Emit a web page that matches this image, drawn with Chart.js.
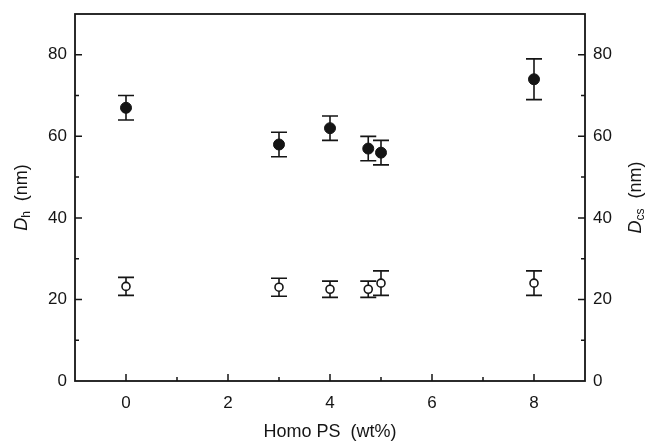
<!DOCTYPE html>
<html>
<head>
<meta charset="utf-8">
<script src="https://cdn.jsdelivr.net/npm/chart.js@4.4.0/dist/chart.umd.min.js"></script>
<style>
  html, body { margin: 0; padding: 0; background: #fff; }
  #wrap { width: 654px; height: 443px; }
</style>
</head>
<body>
<div id="wrap"><canvas id="sizeChart" width="654" height="443"></canvas></div>
<script>
const homoPS = [0, 3, 4, 4.75, 5, 8];
const dhValues = [67, 58, 62, 57, 56, 74];
const dhErrors = [3, 3, 3, 3, 3, 5];
const dcsValues = [23.2, 23, 22.5, 22.5, 24, 24];
const dcsErrors = [2.2, 2.2, 2, 2, 3, 3];
const xTicks = [0, 2, 4, 6, 8];
const yTicks = [0, 20, 40, 60, 80];

const ink = '#151515';
const font = { family: 'Liberation Sans, Arial, sans-serif', size: 17 };

function toPoints(xs, ys, errs) {
    return xs.map((x, i) => ({ x: x, y: ys[i], err: errs[i] }));
}

// error bars go under the markers
const errorBars = {
    id: 'errorBars',
    beforeDatasetsDraw(chart) {
        const ctx = chart.ctx;
        const xs = chart.scales.x;
        ctx.save();
        ctx.strokeStyle = ink;
        ctx.lineWidth = 1.6;
        chart.data.datasets.forEach((ds) => {
            const ys = chart.scales[ds.yAxisID];
            ds.data.forEach((p) => {
                const px = xs.getPixelForValue(p.x);
                const top = ys.getPixelForValue(p.y + p.err);
                const bot = ys.getPixelForValue(p.y - p.err);
                ctx.beginPath();
                ctx.moveTo(px, top); ctx.lineTo(px, bot);
                ctx.moveTo(px - 8, top); ctx.lineTo(px + 8, top);
                ctx.moveTo(px - 8, bot); ctx.lineTo(px + 8, bot);
                ctx.stroke();
            });
        });
        ctx.restore();
    }
};

// frame, inward ticks and the axis titles
const frame = {
    id: 'frame',
    afterDraw(chart) {
        const ctx = chart.ctx;
        const a = chart.chartArea;
        const xs = chart.scales.x, ys = chart.scales.y;
        ctx.save();
        ctx.strokeStyle = ink;
        ctx.lineWidth = 1.8;
        ctx.strokeRect(a.left, a.top, a.right - a.left, a.bottom - a.top);
        ctx.lineWidth = 1.5;
        ctx.beginPath();
        for (let v = 10; v <= 80; v += 10) {
            const py = ys.getPixelForValue(v);
            const len = v % 20 === 0 ? 7 : 4;
            ctx.moveTo(a.left, py); ctx.lineTo(a.left + len, py);
            ctx.moveTo(a.right, py); ctx.lineTo(a.right - len, py);
        }
        for (let v = 0; v <= 8; v += 1) {
            const px = xs.getPixelForValue(v);
            const len = v % 2 === 0 ? 7 : 4;
            ctx.moveTo(px, a.bottom); ctx.lineTo(px, a.bottom - len);
        }
        ctx.stroke();

        ctx.fillStyle = ink;
        ctx.textBaseline = 'middle';
        const midY = (a.top + a.bottom) / 2;
        drawTitle(ctx, 22, midY, 'h');
        drawTitle(ctx, 636, midY, 'cs');

        ctx.font = '18px ' + font.family;
        ctx.textAlign = 'center';
        ctx.fillText('Homo PS  (wt%)', (a.left + a.right) / 2, 432);
        ctx.restore();
    }
};

function drawTitle(ctx, x, y, sub) {
    ctx.save();
    ctx.translate(x, y);
    ctx.rotate(-Math.PI / 2);
    ctx.textAlign = 'left';
    const italic = 'italic 18px ' + font.family;
    const small = '12px ' + font.family;
    const plain = '18px ' + font.family;
    ctx.font = italic;
    const wD = ctx.measureText('D').width;
    ctx.font = small;
    const wS = ctx.measureText(sub).width;
    ctx.font = plain;
    const rest = '  (nm)';
    const wR = ctx.measureText(rest).width;
    let cx = -(wD + wS + wR) / 2;
    ctx.font = italic;
    ctx.fillText('D', cx, 0);
    cx += wD;
    ctx.font = small;
    ctx.fillText(sub, cx, 5);
    cx += wS;
    ctx.font = plain;
    ctx.fillText(rest, cx, 0);
    ctx.restore();
}

function fixHeight(h) {
    return (s) => { s.height = h; s.paddingLeft = 0; s.paddingRight = 0; };
}
function fixWidth(w) {
    return (s) => { s.width = w; s.paddingTop = 0; s.paddingBottom = 0; };
}

new Chart(document.getElementById('sizeChart').getContext('2d'), {
    type: 'scatter',
    data: {
        datasets: [{
            label: 'Dh',
            yAxisID: 'y',
            data: toPoints(homoPS, dhValues, dhErrors),
            pointRadius: 5.5,
            pointBackgroundColor: ink,
            pointBorderColor: ink,
            pointBorderWidth: 1
        }, {
            label: 'Dcs',
            yAxisID: 'y2',
            data: toPoints(homoPS, dcsValues, dcsErrors),
            pointRadius: 4,
            pointBackgroundColor: '#fff',
            pointBorderColor: ink,
            pointBorderWidth: 1.6
        }]
    },
    options: {
        responsive: false,
        animation: false,
        events: [],
        layout: { padding: { top: 14, right: 0, left: 0, bottom: 0 } },
        plugins: { legend: { display: false }, tooltip: { enabled: false } },
        scales: {
            x: {
                type: 'linear',
                min: -1, max: 9,
                grid: { display: false, drawTicks: false },
                border: { display: false },
                afterBuildTicks: (s) => { s.ticks = xTicks.map(v => ({ value: v })); },
                ticks: { color: ink, font: font, padding: 12 },
                afterFit: fixHeight(62)
            },
            y: {
                position: 'left',
                min: 0, max: 90,
                grid: { display: false, drawTicks: false },
                border: { display: false },
                afterBuildTicks: (s) => { s.ticks = yTicks.map(v => ({ value: v })); },
                ticks: { color: ink, font: font, padding: 8 },
                afterFit: fixWidth(75)
            },
            y2: {
                position: 'right',
                min: 0, max: 90,
                grid: { display: false, drawTicks: false },
                border: { display: false },
                afterBuildTicks: (s) => { s.ticks = yTicks.map(v => ({ value: v })); },
                ticks: { color: ink, font: font, padding: 8 },
                afterFit: fixWidth(69)
            }
        }
    },
    plugins: [errorBars, frame]
});
</script>
</body>
</html>
